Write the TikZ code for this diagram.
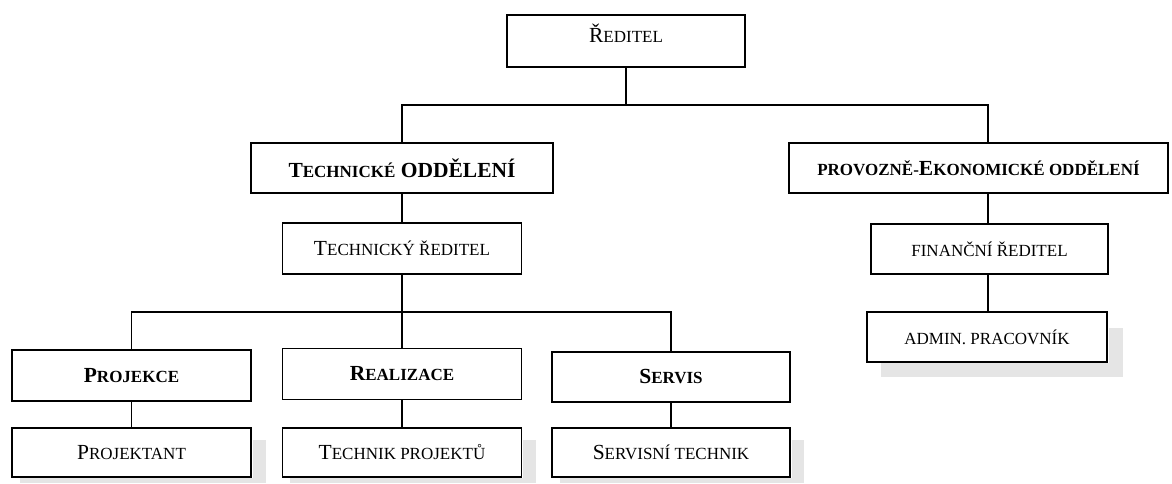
\documentclass[tikz,border=0pt]{standalone}
\usepackage{fontspec}
\setmainfont{Liberation Serif}
\newcommand{\sk}[1]{{\fontsize{17}{17}\selectfont #1}}
\begin{document}
\begin{tikzpicture}[x=1pt,y=-1pt,
  box/.style={draw=black,line width=1.3pt,fill=white,inner sep=0pt},
  txt/.style={inner sep=0pt,font=\fontsize{21.5}{23}\selectfont},
  conn/.style={line width=1.3pt}]
\useasboundingbox (0,0) rectangle (1172,483);
% scan shadows
\fill[black!10] (253,440) rectangle (266,483);
\fill[black!10] (20,478) rectangle (266,483);
\fill[black!10] (523,440) rectangle (536,483);
\fill[black!10] (290,478) rectangle (536,483);
\fill[black!10] (792,440) rectangle (804,483);
\fill[black!10] (560,478) rectangle (804,483);
\fill[black!10] (1109,328) rectangle (1123,377);
\fill[black!10] (881,363) rectangle (1123,377);
% boxes
\node[box,minimum width=238,minimum height=52] (red) at (626,41) {};
\node[txt] (redt) at (626,33) {Ř\sk{EDITEL}};
\node[box,txt,minimum width=302,minimum height=50] (tech) at (402,168) {\bfseries T\sk{ECHNICKÉ} ODDĚLENÍ};
\node[box,txt,minimum width=379,minimum height=50] (pe) at (978.5,168) {\bfseries\sk{PROVOZNĚ-}E\sk{KONOMICKÉ ODDĚLENÍ}};
\node[box,txt,minimum width=239,minimum height=51] (tr) at (402,248.5) {T\sk{ECHNICKÝ ŘEDITEL}};
\node[box,txt,minimum width=237,minimum height=50] (fr) at (989.5,249) {\sk{FINANČNÍ ŘEDITEL}};
\node[box,txt,minimum width=240,minimum height=50] (adm) at (987,337) {\sk{ADMIN. PRACOVNÍK}};
\node[box,txt,minimum width=239,minimum height=51] (proj) at (131.5,375.5) {\bfseries P\sk{ROJEKCE}};
\node[box,txt,minimum width=239,minimum height=51] (real) at (402,374) {\bfseries R\sk{EALIZACE}};
\node[box,txt,minimum width=238,minimum height=50] (serv) at (671,377) {\bfseries S\sk{ERVIS}};
\node[box,txt,minimum width=239,minimum height=49] (pj) at (131.5,452.5) {P\sk{ROJEKTANT}};
\node[box,txt,minimum width=239,minimum height=49] (tp) at (402,452.5) {T\sk{ECHNIK PROJEKTŮ}};
\node[box,txt,minimum width=238,minimum height=49] (st) at (671,452.5) {S\sk{ERVISNÍ TECHNIK}};
% buses
\coordinate (bus1) at (0,105);
\coordinate (bus2) at (0,312);
\coordinate (pex) at (988,0);
% connectors
\draw[conn] (red.south) -- (red.south |- bus1);
\draw[conn] (tech.north) -- (tech.north |- bus1) -- (pex |- bus1) -- (pex |- pe.north);
\draw[conn] (tech.south) -- (tr.north);
\draw[conn] (pe.south -| pex) -- (pex |- fr.north);
\draw[conn] (fr.south -| pex) -- (pex |- adm.north);
\draw[conn] (tr.south) -- (tr.south |- bus2);
\draw[conn] (proj.north) -- (proj.north |- bus2) -- (serv.north |- bus2) -- (serv.north);
\draw[conn] (real.north) -- (real.north |- bus2);
\draw[conn] (proj.south) -- (pj.north);
\draw[conn] (real.south) -- (tp.north);
\draw[conn] (serv.south) -- (st.north);
\end{tikzpicture}
\end{document}
